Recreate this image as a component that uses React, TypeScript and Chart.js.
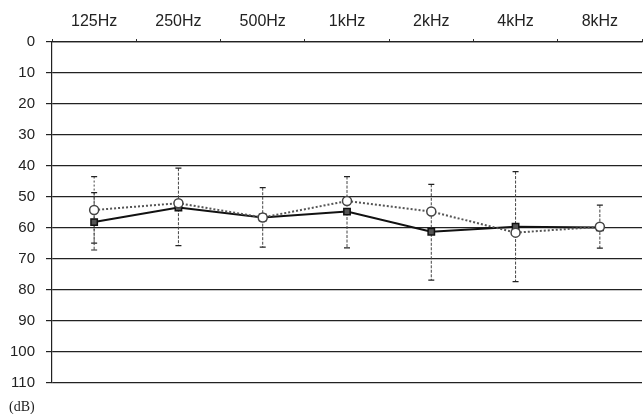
import React, { useEffect, useRef } from "react";
import { Chart, registerables } from "chart.js";

Chart.register(...registerables);

const categories = ["125Hz", "250Hz", "500Hz", "1kHz", "2kHz", "4kHz", "8kHz"];
const yTicks = [0, 10, 20, 30, 40, 50, 60, 70, 80, 90, 100, 110];

// solid series (filled squares)
const solidValues = [58.1, 53.4, 56.6, 54.7, 61.2, 59.6, 59.8];
const solidErrTop = [48.6, 40.7, 47.0, 43.4, 45.9, 41.8, 52.6];
const solidErrBottom = [67.1, 65.7, 66.2, 66.4, 76.8, 77.3, 66.5];

// dotted series (open markers)
const dottedValues = [54.2, 52.0, 56.6, 51.3, 54.7, 61.5, 59.6];
const dottedErrTop: (number | null)[] = [43.4, null, null, null, null, null, null];
const dottedErrBottom: (number | null)[] = [64.9, null, null, null, null, null, null];

const errorBarPlugin = {
  id: "errorBars",
  beforeDatasetsDraw(chart: any) {
    const { ctx, scales } = chart;
    const x = scales.x;
    const y = scales.y;
    const drawBar = (i: number, top: number, bottom: number, dash: number[]) => {
      const px = x.getPixelForValue(i);
      const pt = y.getPixelForValue(top);
      const pb = y.getPixelForValue(bottom);
      ctx.save();
      ctx.strokeStyle = "#444";
      ctx.lineWidth = 1;
      ctx.setLineDash(dash);
      ctx.beginPath();
      ctx.moveTo(px, pt);
      ctx.lineTo(px, pb);
      ctx.stroke();
      ctx.setLineDash([]);
      ctx.lineWidth = 1.2;
      ctx.strokeStyle = "#222";
      ctx.beginPath();
      ctx.moveTo(px - 3, pt);
      ctx.lineTo(px + 3, pt);
      ctx.moveTo(px - 3, pb);
      ctx.lineTo(px + 3, pb);
      ctx.stroke();
      ctx.restore();
    };
    categories.forEach((_, i) => {
      const t = dottedErrTop[i];
      const b = dottedErrBottom[i];
      if (t !== null && b !== null) drawBar(i, t, b, [2, 2]);
      drawBar(i, solidErrTop[i], solidErrBottom[i], [3, 1.5]);
    });
  },
};

export default function App() {
  const ref = useRef<HTMLCanvasElement | null>(null);
  useEffect(() => {
    if (!ref.current) return;
    const chart = new Chart(ref.current, {
      type: "line",
      data: {
        labels: categories,
        datasets: [
          {
            label: "dotted",
            data: dottedValues,
            borderColor: "#555",
            borderWidth: 2,
            borderDash: [2, 2],
            pointStyle: "circle",
            pointRadius: 4.5,
            pointBorderWidth: 1.5,
            pointBackgroundColor: "#fff",
            pointBorderColor: "#444",
            tension: 0,
            order: 1,
          },
          {
            label: "solid",
            data: solidValues,
            borderColor: "#111",
            borderWidth: 2,
            pointStyle: "rect",
            pointRadius: 4.5,
            pointBorderWidth: 1.5,
            pointBackgroundColor: "#555",
            pointBorderColor: "#111",
            tension: 0,
            order: 2,
          },
        ],
      },
      options: {
        animation: false,
        responsive: false,
        maintainAspectRatio: false,
        layout: { autoPadding: false, padding: { left: 0, right: 1, top: 0, bottom: 31 } },
        plugins: {
          legend: { display: false },
          tooltip: { enabled: false },
        },
        scales: {
          x: {
            type: "category",
            position: "top",
            offset: true,
            afterFit(scale: any) {
              scale.height = 42;
              scale.paddingLeft = 0;
              scale.paddingRight = 0;
            },
            grid: {
              display: true,
              offset: true,
              drawOnChartArea: false,
              drawTicks: true,
              tickLength: 3,
              color: "#333",
            },
            border: { display: true, color: "#222", width: 1.2 },
            ticks: {
              color: "#222",
              padding: 8,
              font: { family: "'Liberation Sans', Arial, sans-serif", size: 16 },
              maxRotation: 0,
            },
          },
          y: {
            type: "linear",
            reverse: true,
            min: 0,
            max: 110,
            afterFit(scale: any) {
              scale.width = 52;
            },
            afterBuildTicks(scale: any) {
              scale.ticks = yTicks.map((v) => ({ value: v }));
            },
            grid: {
              color: "#222",
              lineWidth: 1.2,
              drawTicks: true,
              tickLength: 6,
            },
            border: { display: true, color: "#222", width: 1.2 },
            ticks: {
              color: "#222",
              padding: 11,
              font: { family: "'Liberation Sans', Arial, sans-serif", size: 15 },
            },
          },
        },
      },
      plugins: [errorBarPlugin],
    });
    return () => chart.destroy();
  }, []);

  return (
    <div style={{ position: "fixed", left: 0, top: 0, width: 643, height: 414, background: "#fff" }}>
      <canvas ref={ref} width={643} height={414} style={{ position: "absolute", left: 0, top: 0 }} />
      <div
        style={{
          position: "absolute",
          left: 9,
          top: 399,
          fontFamily: "'Liberation Serif', 'Times New Roman', serif",
          fontSize: 14,
          color: "#222",
          lineHeight: "15px",
        }}
      >
        (dB)
      </div>
    </div>
  );
}
